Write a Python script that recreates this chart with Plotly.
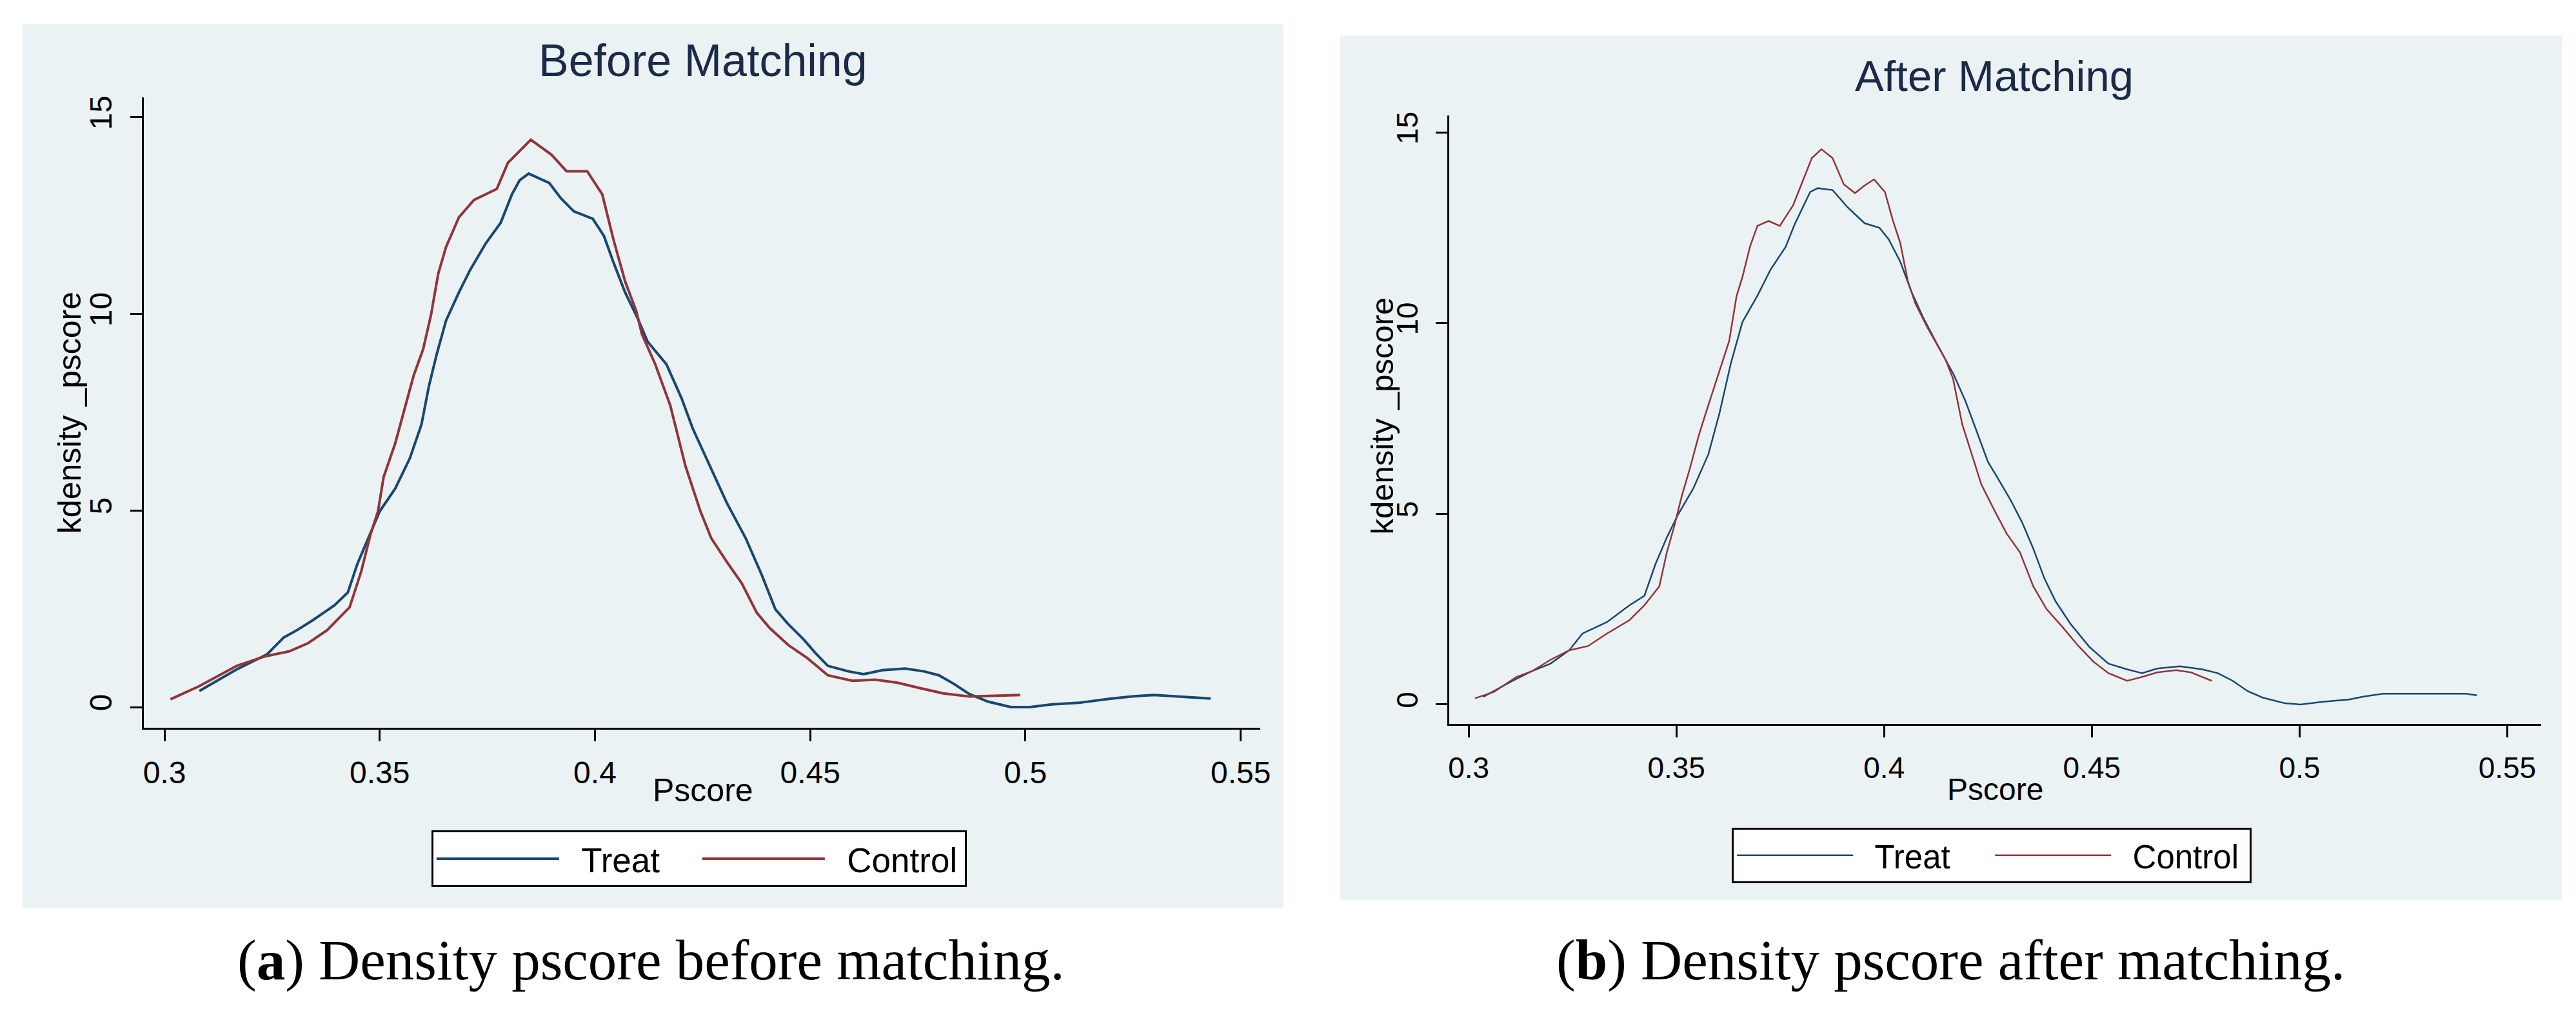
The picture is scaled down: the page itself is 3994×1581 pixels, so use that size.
import plotly.graph_objects as go

# ---------------- data ----------------
before_treat_x = [0.3081, 0.3168, 0.3238, 0.3277, 0.3308, 0.3343, 0.3395, 0.3426, 0.3448, 0.3474,
                  0.3500, 0.3536, 0.3570, 0.3597, 0.3614, 0.3632, 0.3654, 0.3684, 0.3710, 0.3746,
                  0.3781, 0.3807, 0.3825, 0.3846, 0.3867, 0.3894, 0.3921, 0.3951, 0.3995, 0.4021,
                  0.4043, 0.4070, 0.4100, 0.4122, 0.4166, 0.4201, 0.4227, 0.4271, 0.4306, 0.4350,
                  0.4388, 0.4419, 0.4449, 0.4484, 0.4511, 0.4541, 0.4589, 0.4624, 0.4668, 0.4721,
                  0.4764, 0.4799, 0.4834, 0.4870, 0.4913, 0.4966, 0.5010, 0.5062, 0.5124, 0.5194,
                  0.5247, 0.5299, 0.5360, 0.5430]
before_treat_y = [0.41, 0.96, 1.34, 1.77, 1.96, 2.20, 2.59, 2.92, 3.64, 4.31,
                  4.98, 5.56, 6.33, 7.19, 8.15, 8.96, 9.83, 10.55, 11.12, 11.79,
                  12.32, 13.04, 13.40, 13.57, 13.47, 13.33, 12.94, 12.61, 12.42, 11.98,
                  11.31, 10.55, 9.87, 9.30, 8.72, 7.86, 7.09, 6.04, 5.20, 4.30,
                  3.35, 2.49, 2.11, 1.73, 1.39, 1.05, 0.91, 0.84, 0.94, 0.98,
                  0.91, 0.81, 0.59, 0.33, 0.14, 0.00, 0.00, 0.07, 0.11, 0.21,
                  0.27, 0.31, 0.27, 0.22]

before_control_x = [0.3014, 0.3080, 0.3168, 0.3233, 0.3290, 0.3334, 0.3378, 0.3430, 0.3457, 0.3479,
                    0.3496, 0.3509, 0.3536, 0.3557, 0.3579, 0.3601, 0.3619, 0.3636, 0.3654, 0.3684,
                    0.3719, 0.3772, 0.3798, 0.3851, 0.3899, 0.3934, 0.3982, 0.4017, 0.4043, 0.4070,
                    0.4096, 0.4109, 0.4140, 0.4175, 0.4210, 0.4245, 0.4270, 0.4306, 0.4341, 0.4376,
                    0.4406, 0.4449, 0.4493, 0.4541, 0.4598, 0.4651, 0.4703, 0.4756, 0.4809, 0.4870,
                    0.4923, 0.4988]
before_control_y = [0.20, 0.53, 1.05, 1.29, 1.42, 1.63, 1.96, 2.54, 3.45, 4.41,
                    4.98, 5.85, 6.71, 7.57, 8.44, 9.11, 9.97, 11.03, 11.70, 12.46,
                    12.90, 13.18, 13.85, 14.43, 14.05, 13.63, 13.63, 13.04, 11.89, 10.83,
                    10.07, 9.49, 8.72, 7.67, 6.14, 4.98, 4.30, 3.70, 3.15, 2.40,
                    2.01, 1.58, 1.25, 0.81, 0.67, 0.70, 0.62, 0.48, 0.35, 0.27,
                    0.29, 0.31]

after_treat_x = [0.3035, 0.3106, 0.3152, 0.3197, 0.3242, 0.3274, 0.3333, 0.3387, 0.3423, 0.3450,
                 0.3477, 0.3504, 0.3541, 0.3577, 0.3604, 0.3631, 0.3659, 0.3695, 0.3727, 0.3763,
                 0.3785, 0.3822, 0.3840, 0.3876, 0.3912, 0.3953, 0.3989, 0.4011, 0.4039, 0.4066,
                 0.4093, 0.4125, 0.4168, 0.4196, 0.4223, 0.4250, 0.4277, 0.4304, 0.4332, 0.4359,
                 0.4386, 0.4413, 0.4449, 0.4494, 0.4540, 0.4585, 0.4621, 0.4657, 0.4712, 0.4766,
                 0.4803, 0.4839, 0.4875, 0.4911, 0.4965, 0.5002, 0.5056, 0.5119, 0.5156, 0.5201,
                 0.5291, 0.5400, 0.5427]
after_treat_y = [0.20, 0.62, 0.87, 1.07, 1.42, 1.86, 2.16, 2.60, 2.85, 3.69,
                 4.38, 4.98, 5.67, 6.56, 7.65, 8.94, 10.03, 10.72, 11.41, 12.00,
                 12.60, 13.44, 13.54, 13.49, 13.04, 12.62, 12.50, 12.20, 11.61, 10.82,
                 10.17, 9.50, 8.64, 7.95, 7.16, 6.36, 5.87, 5.37, 4.78, 4.09,
                 3.30, 2.70, 2.11, 1.51, 1.07, 0.92, 0.82, 0.94, 1.00, 0.92,
                 0.82, 0.62, 0.35, 0.18, 0.03, 0.00, 0.07, 0.13, 0.21, 0.28,
                 0.28, 0.28, 0.24]

after_control_x = [0.3015, 0.3061, 0.3115, 0.3152, 0.3197, 0.3242, 0.3287, 0.3333, 0.3387, 0.3423,
                   0.3459, 0.3477, 0.3495, 0.3513, 0.3532, 0.3554, 0.3577, 0.3604, 0.3627, 0.3645,
                   0.3659, 0.3677, 0.3695, 0.3722, 0.3749, 0.3781, 0.3803, 0.3826, 0.3849, 0.3876,
                   0.3903, 0.3930, 0.3953, 0.3976, 0.4002, 0.4021, 0.4039, 0.4057, 0.4075, 0.4102,
                   0.4148, 0.4166, 0.4188, 0.4211, 0.4234, 0.4266, 0.4295, 0.4327, 0.4359, 0.4391,
                   0.4431, 0.4468, 0.4504, 0.4540, 0.4585, 0.4621, 0.4657, 0.4703, 0.4739, 0.4766,
                   0.4789]
after_control_y = [0.16, 0.33, 0.72, 0.87, 1.17, 1.42, 1.53, 1.86, 2.21, 2.60,
                   3.10, 3.99, 4.68, 5.47, 6.17, 7.06, 7.85, 8.74, 9.53, 10.72,
                   11.21, 12.00, 12.55, 12.68, 12.55, 13.09, 13.69, 14.33, 14.56, 14.33,
                   13.64, 13.41, 13.61, 13.77, 13.44, 12.70, 12.10, 11.11, 10.52, 9.93,
                   9.04, 8.54, 7.35, 6.56, 5.77, 5.08, 4.48, 3.99, 3.10, 2.50,
                   2.01, 1.53, 1.12, 0.82, 0.62, 0.72, 0.84, 0.90, 0.84, 0.72,
                   0.62]

x_tick_vals = [0.3, 0.35, 0.4, 0.45, 0.5, 0.55]
x_tick_text = ["0.3", "0.35", "0.4", "0.45", "0.5", "0.55"]
y_tick_vals = [0, 5, 10, 15]
y_tick_text = ["0", "5", "10", "15"]

panel_titles = ["Before Matching", "After Matching"]
series_names = ["Treat", "Control"]
x_title = "Pscore"
y_title = "kdensity _pscore"
captions = ["(<b>a</b>) Density pscore before matching.", "(<b>b</b>) Density pscore after matching."]

# ---------------- styling ----------------
W, H = 3994, 1581
NAVY = "#1A476F"
MAROON = "#90353B"
BG = "#EAF2F3"
SANS = "Liberation Sans, Arial, sans-serif"
SERIF = "Liberation Serif, Times New Roman, serif"
GAP = "\u00a0\u00a0"  # space between legend key line and its label


def px_x(v):
    return v / W


def px_y(v):
    return 1 - v / H


fig = go.Figure()

fig.add_trace(go.Scatter(x=before_treat_x, y=before_treat_y, mode="lines", name=GAP + series_names[0],
                         line=dict(color=NAVY, width=4), xaxis="x", yaxis="y", legend="legend"))
fig.add_trace(go.Scatter(x=before_control_x, y=before_control_y, mode="lines", name=GAP + series_names[1],
                         line=dict(color=MAROON, width=4), xaxis="x", yaxis="y", legend="legend"))
fig.add_trace(go.Scatter(x=after_treat_x, y=after_treat_y, mode="lines", name=GAP + series_names[0],
                         line=dict(color=NAVY, width=2.5), xaxis="x2", yaxis="y2", legend="legend2"))
fig.add_trace(go.Scatter(x=after_control_x, y=after_control_y, mode="lines", name=GAP + series_names[1],
                         line=dict(color=MAROON, width=2.5), xaxis="x2", yaxis="y2", legend="legend2"))

# panel backgrounds
shapes = [
    dict(type="rect", xref="paper", yref="paper", x0=px_x(25), x1=px_x(1989), y0=px_y(1399), y1=px_y(23),
         fillcolor=BG, line=dict(width=0), layer="below"),
    dict(type="rect", xref="paper", yref="paper", x0=px_x(2078), x1=px_x(3981), y0=px_y(1386), y1=px_y(41),
         fillcolor=BG, line=dict(width=0), layer="below"),
]


def xaxis_cfg(domain, rng, anchor, fs):
    return dict(domain=domain, range=rng, anchor=anchor, tickvals=x_tick_vals, ticktext=x_tick_text,
                showgrid=False, zeroline=False, showline=True, linecolor="black", linewidth=3,
                ticks="outside", ticklen=18, tickwidth=2.5, tickcolor="black",
                tickfont=dict(family=SANS, size=fs, color="black"), ticklabelstandoff=8,
                fixedrange=True)


def yaxis_cfg(domain, rng, anchor, fs):
    return dict(domain=domain, range=rng, anchor=anchor, tickvals=y_tick_vals, ticktext=y_tick_text,
                showgrid=True, gridcolor=BG, gridwidth=4, zeroline=False,
                showline=True, linecolor="black", linewidth=3,
                ticks="outside", ticklen=18, tickwidth=2.5, tickcolor="black", tickangle=-90,
                tickfont=dict(family=SANS, size=fs, color="black"), ticklabelstandoff=10,
                fixedrange=True)


xa1 = xaxis_cfg([px_x(214), px_x(1953)], [0.2952, 0.5545], "y", 48)
ya1 = yaxis_cfg([px_y(1118), px_y(138)], [-0.52, 15.5], "x", 48)
xa2 = xaxis_cfg([px_x(2248), px_x(3949)], [0.29537, 0.5582], "y2", 46)
ya2 = yaxis_cfg([px_y(1112), px_y(166)], [-0.506, 15.44], "x2", 46)


def ann(text, x, y, size, color="black", family=SANS, angle=0):
    return dict(text=text, x=px_x(x), y=px_y(y), xref="paper", yref="paper", showarrow=False,
                xanchor="center", yanchor="middle", textangle=angle,
                font=dict(family=family, size=size, color=color))


annotations = [
    ann(panel_titles[0], 1085, 80, 70, "#1B2A47"),
    ann(panel_titles[1], 3097, 104, 67, "#1B2A47"),
    ann(y_title, 98, 628, 50, angle=-90),
    ann(y_title, 2143, 633, 49, angle=-90),
    ann(x_title, 1085, 1216, 50),
    ann(x_title, 3098, 1214, 48),
    ann(captions[0], 1004, 1480, 89, family=SERIF),
    ann(captions[1], 3029, 1480, 89, family=SERIF),
]

legend_common = dict(orientation="h", xanchor="left", yanchor="top", bgcolor="white",
                     bordercolor="black", borderwidth=3,
                     entrywidthmode="pixels", tracegroupgap=0, itemclick=False, itemdoubleclick=False)

fig.update_layout(
    width=W, height=H,
    margin=dict(l=0, r=0, t=0, b=0, pad=0),
    paper_bgcolor="white", plot_bgcolor="white",
    showlegend=True,
    xaxis=xa1, yaxis=ya1, xaxis2=xa2, yaxis2=ya2,
    shapes=shapes, annotations=annotations,
    legend=dict(x=px_x(662), y=px_y(1278), itemwidth=190, entrywidth=207,
                font=dict(family=SANS, size=53, color="black"), **legend_common),
    legend2=dict(x=px_x(2688), y=px_y(1274), itemwidth=180, entrywidth=205,
                 font=dict(family=SANS, size=51, color="black"), **legend_common),
)

fig.write_html("out.html")
